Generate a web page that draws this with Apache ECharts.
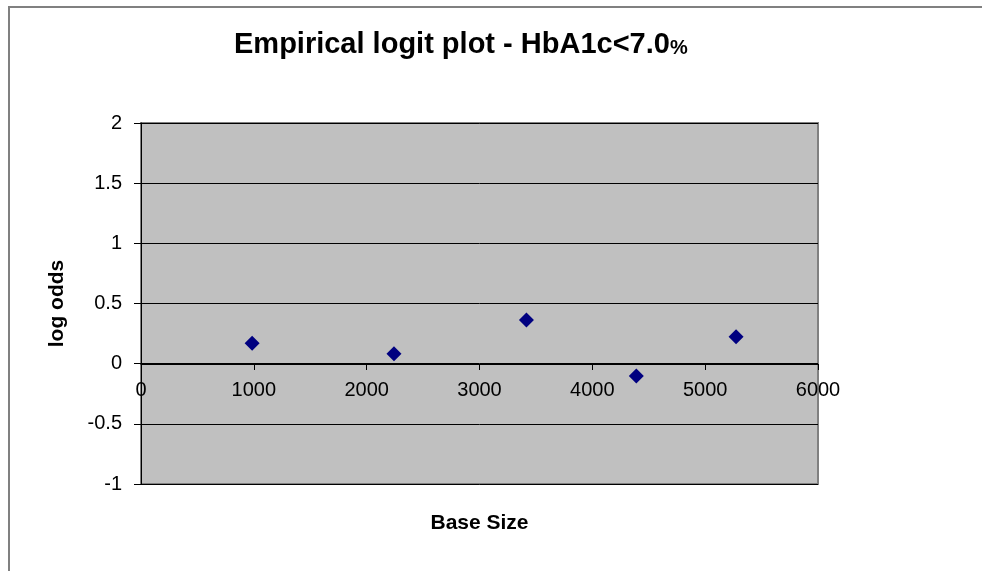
<!DOCTYPE html>
<html>
<head>
<meta charset="utf-8">
<script src="https://cdn.jsdelivr.net/npm/echarts@6/dist/echarts.min.js"></script>
<style>html,body{margin:0;padding:0;background:#fff}#c{width:982px;height:571px}</style>
</head>
<body>
<div id="c"></div>
<script>
const baseSize = [985, 2242, 3416, 4390, 5274];
const logOdds = [0.17, 0.083, 0.362, -0.102, 0.224];
const xTicks = [0, 6000, 1000];   // min, max, interval
const yTicks = [-1, 2, 0.5];      // min, max, interval

const FONT = '"Liberation Sans", Arial, sans-serif';
const chart = echarts.init(document.getElementById('c'), null, {renderer: 'canvas'});
chart.setOption({
  animation: false,
  backgroundColor: '#ffffff',
  title: {
    text: '{a|Empirical logit plot - HbA1c<7.0}{b|%}',
    left: 229,
    top: 25,
    textStyle: {
      rich: {
        a: {fontFamily: FONT, fontSize: 29, fontWeight: 'bold', color: '#000'},
        b: {fontFamily: FONT, fontSize: 20, fontWeight: 'bold', color: '#000', padding: [7, 0, 0, 0]}
      }
    }
  },
  graphic: [{
    type: 'rect', silent: true,
    shape: {x: 9, y: 7, width: 1000, height: 600},
    style: {fill: 'none', stroke: '#808080', lineWidth: 2}
  }],
  grid: {
    left: 141, top: 123, right: 164, bottom: 87,
    outerBoundsMode: 'none', containLabel: false,
    show: true, backgroundColor: '#C0C0C0', borderColor: '#808080', borderWidth: 2
  },
  xAxis: {
    type: 'value', min: xTicks[0], max: xTicks[1], interval: xTicks[2],
    position: 'bottom', offset: -120,
    name: 'Base Size', nameLocation: 'middle', nameGap: 149,
    nameTextStyle: {fontFamily: FONT, fontSize: 21, fontWeight: 'bold', color: '#000'},
    axisLine: {show: true, onZero: false, lineStyle: {color: '#000', width: 1}},
    axisTick: {show: true, length: 6, lineStyle: {color: '#000'}},
    axisLabel: {fontFamily: FONT, fontSize: 20, color: '#000', margin: 16,
      formatter: v => String(v)},
    splitLine: {show: false}
  },
  yAxis: {
    type: 'value', min: yTicks[0], max: yTicks[1], interval: yTicks[2],
    name: 'log odds', nameLocation: 'middle', nameGap: 73,
    nameTextStyle: {fontFamily: FONT, fontSize: 21, fontWeight: 'bold', color: '#000'},
    axisLine: {show: true, onZero: false, lineStyle: {color: '#000', width: 1}},
    axisTick: {show: true, length: 7, lineStyle: {color: '#000'}},
    axisLabel: {fontFamily: FONT, fontSize: 20, color: '#000', margin: 19,
      formatter: v => String(v)},
    splitLine: {show: true, lineStyle: {color: '#000', width: 1}}
  },
  series: [{
    type: 'scatter',
    data: baseSize.map((x, i) => [x, logOdds[i]]),
    symbol: 'diamond',
    symbolSize: 15,
    itemStyle: {color: '#000080', opacity: 1}
  }]
});
</script>
</body>
</html>
